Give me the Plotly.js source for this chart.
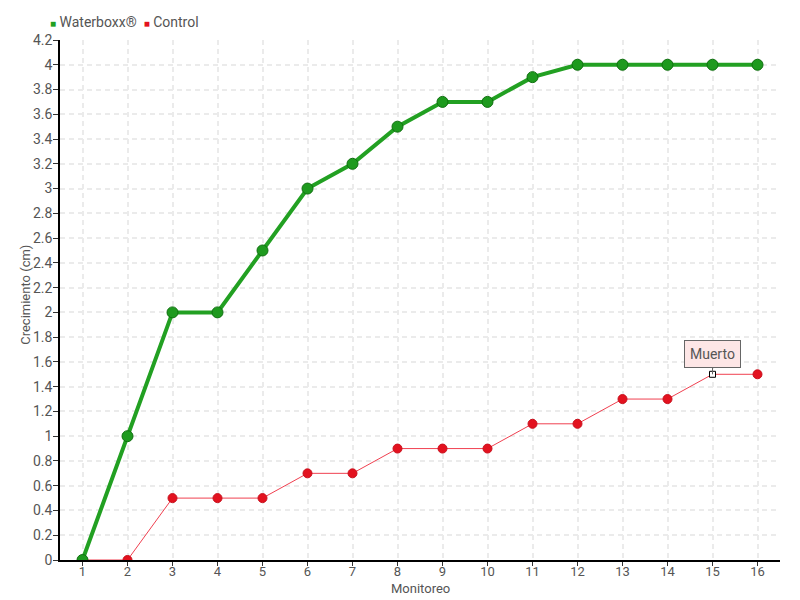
<!DOCTYPE html>
<html><head><meta charset="utf-8">
<script src="https://cdn.plot.ly/plotly-3.0.1.min.js"></script>
<style>body{margin:0;background:#fff}#c{width:800px;height:600px}</style>
</head><body><div id="c"></div>
<script>
const categories = [1,2,3,4,5,6,7,8,9,10,11,12,13,14,15,16];
const waterboxx = [0,1,2,2,2.5,3,3.2,3.5,3.7,3.7,3.9,4,4,4,4,4];
const control = [0,0,0.5,0.5,0.5,0.7,0.7,0.9,0.9,0.9,1.1,1.1,1.3,1.3,1.5,1.5];
const yTicks = [0,0.2,0.4,0.6,0.8,1,1.2,1.4,1.6,1.8,2,2.2,2.4,2.6,2.8,3,3.2,3.4,3.6,3.8,4,4.2];
const seriesNames = ["Waterboxx®", "Control"];
const annotIndex = 14;
const annotText = "Muerto";

const font = "Roboto, Liberation Sans, sans-serif";
const gray = "#555";
const green = "#22a022";
const red = "#e3121f";

const ctrlSymbols = control.map((v,i)=> i===annotIndex ? "square" : "circle");
const ctrlColors = control.map((v,i)=> i===annotIndex ? "#fff" : red);
const ctrlSizes = control.map((v,i)=> i===annotIndex ? 6 : 9);
const ctrlLineColors = control.map((v,i)=> i===annotIndex ? "#000" : "#c80f1c");

const traces = [
  {x: categories, y: control, mode: "lines+markers", name: seriesNames[1], showlegend: false,
   line: {color: "#f04050", width: 1},
   marker: {color: ctrlColors, size: ctrlSizes, symbol: ctrlSymbols, opacity: 1, line: {color: ctrlLineColors, width: 1}}},
  {x: categories, y: waterboxx, mode: "lines+markers", name: seriesNames[0], showlegend: false,
   line: {color: green, width: 4},
   marker: {color: "#1e9a1e", size: 11, opacity: 1, line: {color: "#0f6f0f", width: 1}}}
];

const layout = {
  width: 800, height: 600,
  margin: {l: 60, r: 20, t: 40, b: 40, autoexpand: false},
  paper_bgcolor: "#fff", plot_bgcolor: "#fff",
  font: {family: font, color: gray, size: 14},
  showlegend: false,
  xaxis: {range: [0.5, 16.5], tickvals: categories, ticktext: categories.map(String),
          showgrid: true, gridcolor: "#ebebeb", griddash: "5px,4px", gridwidth: 1.5,
          showline: true, linecolor: "#000", linewidth: 1.5,
          ticks: "outside", ticklen: 4, tickcolor: "#333", zeroline: false,
          ticklabelstandoff: -5,
          tickfont: {family: font, size: 13, color: gray}},
  yaxis: {range: [0, 4.2], tickvals: yTicks, ticktext: yTicks.map(String),
          showgrid: true, gridcolor: "#ebebeb", griddash: "5px,4px", gridwidth: 1.5,
          showline: true, linecolor: "#000", linewidth: 1.5,
          ticks: "outside", ticklen: 5, tickcolor: "#333", zeroline: false,
          ticklabelstandoff: -2,
          tickfont: {family: font, size: 14, color: gray}},
  annotations: [
    {x: categories[annotIndex], y: control[annotIndex], text: annotText,
     showarrow: true, arrowhead: 0, arrowcolor: "#666", arrowwidth: 1, ax: 0, ay: -20,
     bgcolor: "#fde6e6", bordercolor: "#666", borderwidth: 1, borderpad: 5,
     font: {family: font, size: 14, color: gray}},
    {xref: "paper", yref: "paper", x: -0.0472, y: 0.51, text: "Crecimiento (cm)", textangle: -90,
     showarrow: false, xanchor: "center", yanchor: "middle", font: {family: font, size: 13, color: gray}},
    {xref: "paper", yref: "paper", x: 0.5, y: -0.0548, text: "Monitoreo",
     showarrow: false, xanchor: "center", yanchor: "middle", font: {family: font, size: 13, color: gray}},
    {xref: "paper", yref: "paper", x: -0.017, y: 1.034, xanchor: "left", yanchor: "middle", showarrow: false,
     text: "<span style='color:" + green + ";font-size:10px'>■</span> " + seriesNames[0] +
           "  <span style='color:" + red + ";font-size:10px'>■</span> " + seriesNames[1],
     font: {family: font, size: 14, color: gray}}
  ]
};

Plotly.newPlot("c", traces, layout, {displayModeBar: false});
</script></body></html>
